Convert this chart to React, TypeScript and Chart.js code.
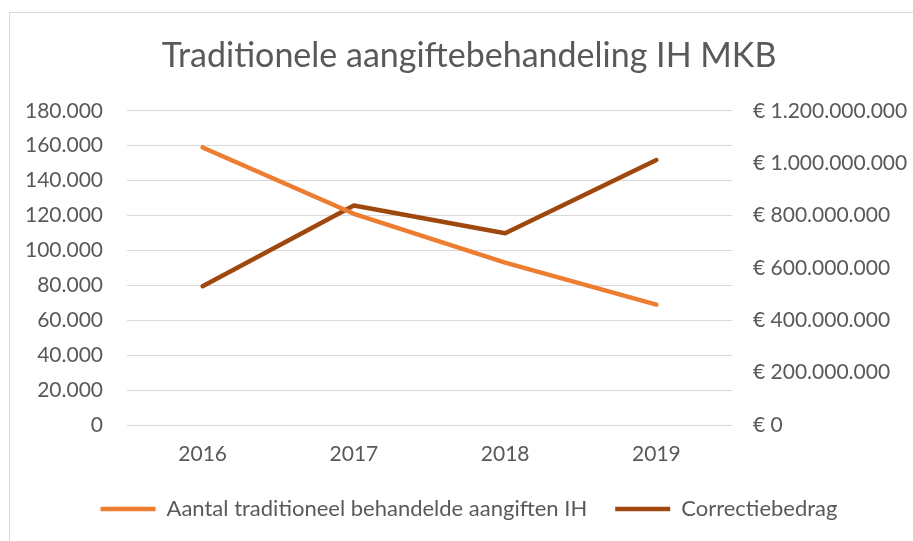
import React, { useEffect, useRef } from "react";
import { Chart, registerables } from "chart.js";

Chart.register(...registerables);

const chartTitle = "Traditionele aangiftebehandeling IH MKB";
const years = ["2016", "2017", "2018", "2019"];
const seriesNames = ["Aantal traditioneel behandelde aangiften IH", "Correctiebedrag"];
const aantalAangiften = [159000, 121000, 93000, 69000];
const correctiebedrag = [530000000, 838000000, 732000000, 1012000000];
const leftAxisMax = 180000;
const leftAxisStep = 20000;
const rightAxisMax = 1200000000;
const rightAxisStep = 200000000;

const ORANGE = "#ED7D31";
const BROWN = "#9E480E";
const TEXT = "#595959";
const GRID = "#D9D9D9";
const FONT = "Lato";

function fmtNL(n: number): string {
  return Math.round(n)
    .toString()
    .replace(/\B(?=(\d{3})+(?!\d))/g, ".");
}

export default function App() {
  const ref = useRef<HTMLCanvasElement | null>(null);

  useEffect(() => {
    if (!ref.current) return;
    const padLeft = 25;
    const chart = new Chart(ref.current, {
      type: "line",
      data: {
        labels: years,
        datasets: [
          {
            label: seriesNames[0],
            data: aantalAangiften,
            borderColor: ORANGE,
            backgroundColor: ORANGE,
            borderWidth: 4.5,
            borderCapStyle: "round",
            borderJoinStyle: "round",
            pointRadius: 0,
            tension: 0,
            yAxisID: "y",
          },
          {
            label: seriesNames[1],
            data: correctiebedrag,
            borderColor: BROWN,
            backgroundColor: BROWN,
            borderWidth: 4.5,
            borderCapStyle: "round",
            borderJoinStyle: "round",
            pointRadius: 0,
            tension: 0,
            yAxisID: "y1",
          },
        ],
      },
      options: {
        animation: false,
        responsive: false,
        maintainAspectRatio: false,
        layout: { padding: { top: 0, left: padLeft, right: 0, bottom: 11 } },
        plugins: {
          title: {
            display: true,
            text: chartTitle,
            color: TEXT,
            font: { family: FONT, size: 34, weight: "normal" },
            padding: { top: 36, bottom: 34 },
          },
          legend: {
            position: "bottom",
            labels: {
              usePointStyle: true,
              pointStyle: "line",
              pointStyleWidth: 55,
              color: TEXT,
              font: { family: FONT, size: 22 },
              padding: 28,
            },
          },
          tooltip: { enabled: false },
        },
        scales: {
          x: {
            offset: true,
            grid: { display: false, drawTicks: false, offset: true },
            border: { display: false },
            ticks: {
              color: TEXT,
              font: { family: FONT, size: 21 },
              padding: 17,
            },
            afterFit: (s: any) => {
              s.height = 45;
            },
          },
          y: {
            position: "left",
            min: 0,
            max: leftAxisMax,
            ticks: {
              stepSize: leftAxisStep,
              color: TEXT,
              font: { family: FONT, size: 21 },
              padding: 24,
              callback: (v: any) => fmtNL(Number(v)),
            },
            grid: { color: GRID, lineWidth: 1, drawTicks: false },
            border: { display: false },
            afterFit: (s: any) => {
              s.width = 127 - padLeft;
            },
          },
          y1: {
            position: "right",
            min: 0,
            max: rightAxisMax,
            ticks: {
              stepSize: rightAxisStep,
              color: TEXT,
              font: { family: FONT, size: 21 },
              padding: 21,
              callback: (v: any) => "€ " + fmtNL(Number(v)),
            },
            grid: { display: false, drawTicks: false },
            border: { display: false },
            afterFit: (s: any) => {
              s.width = 181;
            },
          },
        },
      },
    });
    return () => chart.destroy();
  }, []);

  return (
    <div
      style={{
        position: "absolute",
        left: 0,
        top: 0,
        width: 913,
        height: 541,
        overflow: "hidden",
        background: "#FFFFFF",
      }}
    >
      <div
        style={{
          position: "absolute",
          left: 9,
          top: 12,
          width: 1000,
          height: 700,
          border: "1px solid #D9D9D9",
          boxSizing: "border-box",
        }}
      />
      <canvas
        ref={ref}
        width={913}
        height={541}
        style={{ position: "absolute", left: 0, top: 0, width: 913, height: 541 }}
      />
    </div>
  );
}
